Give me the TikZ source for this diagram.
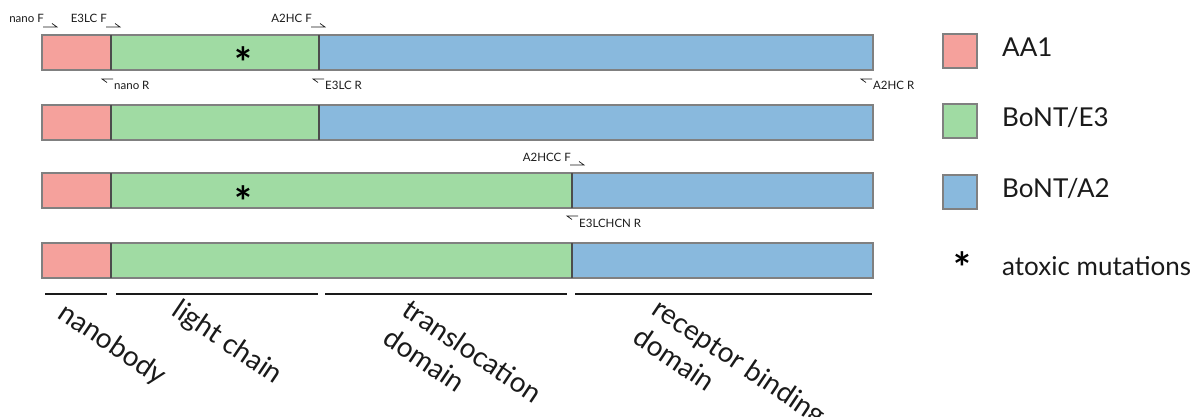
\documentclass[tikz,border=0pt]{standalone}
\usepackage{fontspec}
\setmainfont{Lato}
\definecolor{nbpink}{HTML}{F5A19C}
\definecolor{etgreen}{HTML}{A0DBA3}
\definecolor{atblue}{HTML}{89B9DD}
\definecolor{edge}{HTML}{808080}
\definecolor{ink}{HTML}{1A1A1A}
\begin{document}
\begin{tikzpicture}[x=1pt,y=-1pt,
  part/.style={draw=edge,line width=1.6pt},
  cut/.style={draw=black!70,line width=1.6pt},
  prm/.style={font=\fontsize{11.5}{11.5}\selectfont,inner sep=0pt,text=ink},
  harr/.style={line width=0.7pt,draw=ink},
  lbl/.style={font=\fontsize{28}{34}\selectfont,rotate=-34,anchor=north west,align=left,inner sep=0pt,text=ink},
  leg/.style={font=\fontsize{26}{26}\selectfont,anchor=base west,inner sep=0pt,text=ink},
  mut/.style={font=\fontsize{42}{42}\selectfont\bfseries,inner sep=0pt,anchor=base}]
\useasboundingbox (0,0) rectangle (1201,417);
% the four constructs
\foreach \t/\s in {35/319,105/319,173/572,243/572} {
  \fill[nbpink] (42,\t) rectangle (111,\t+35);
  \fill[etgreen] (111,\t) rectangle (\s,\t+35);
  \fill[atblue] (\s,\t) rectangle (873,\t+35);
  \draw[part] (42,\t) rectangle (873,\t+35);
  \draw[cut] (111,\t) -- (111,\t+35) (\s,\t) -- (\s,\t+35);
}
\node[mut] (m1) at (243,79) {*};
\node[mut] (m3) at (243,217) {*};
% forward primers
\node[prm,anchor=base east] (nanoF) at (44,23) {nano F};
\node[prm,anchor=base east] (lcF) at (107,23) {E3LC F};
\node[prm,anchor=base east] (hcF) at (312,23) {A2HC F};
\node[prm,anchor=base east] (hccF) at (571,161) {A2HCC F};
\foreach \p in {nanoF,lcF,hcF,hccF}
  \draw[harr] ([xshift=-1pt,yshift=-4pt]\p.base east) -- ++(14,0) -- ++(-5,-3.5);
% reverse primers
\node[prm,anchor=base west] (nanoR) at (114,90) {nano R};
\node[prm,anchor=base west] (lcR) at (325,90) {E3LC R};
\node[prm,anchor=base west] (hcR) at (873,90) {A2HC R};
\node[prm,anchor=base west] (hcnR) at (579,227) {E3LCHCN R};
\foreach \p in {nanoR,lcR,hcR,hcnR}
  \draw[harr] ([xshift=-1pt,yshift=11pt]\p.base west) -- ++(-11,0) -- ++(5,3.5);
% domains
\draw[line width=1.8pt,draw=ink] (45,294) -- (107,294) (116,294) -- (318,294)
  (325,294) -- (567,294) (575,294) -- (872,294);
\node[lbl] (nb) at (68,300) {nanobody};
\node[lbl] (lc) at (182,297) {light chain};
\node[lbl] (td) at (412,297) {translocation\\domain};
\node[lbl] (rb) at (662,296) {receptor binding\\domain};
% legend
\draw[part,fill=nbpink] (943,34) rectangle (977,68);
\draw[part,fill=etgreen] (943,104) rectangle (977,138);
\draw[part,fill=atblue] (943,175) rectangle (977,209);
\node[leg] (lnb) at (1002,57) {AA1};
\node[leg] (let) at (1002,127) {BoNT/E3};
\node[leg] (lat) at (1002,197) {BoNT/A2};
\node[mut] (lm) at (962,283) {*};
\node[leg] (lmut) at (1002,275) {atoxic mutations};
\end{tikzpicture}
\end{document}
